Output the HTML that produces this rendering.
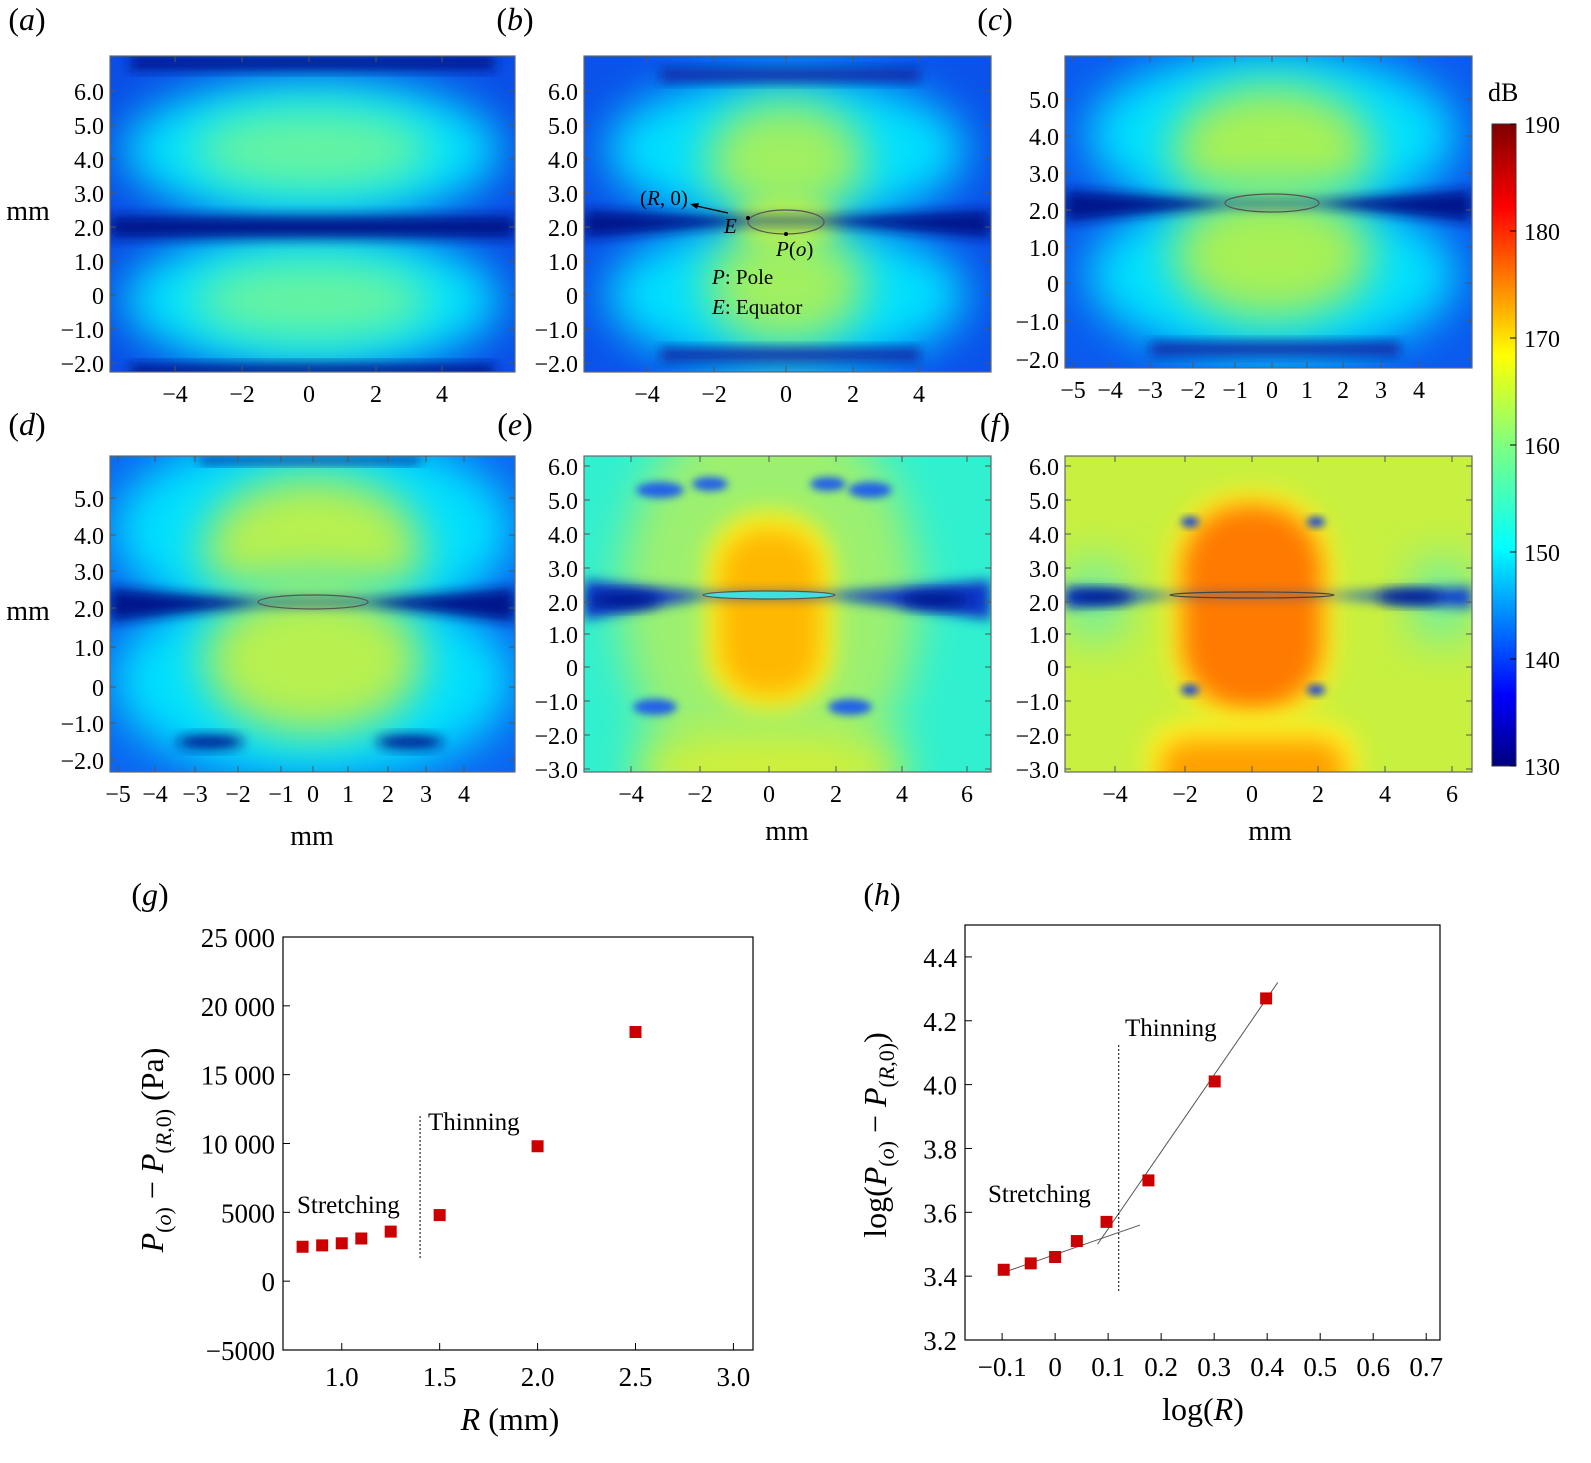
<!DOCTYPE html>
<html><head><meta charset="utf-8"><style>
html,body{margin:0;padding:0;background:#fff;}
svg{display:block;font-family:"Liberation Serif",serif;}
</style></head><body>
<svg id="fig" width="1591" height="1463" viewBox="0 0 1591 1463" xmlns="http://www.w3.org/2000/svg">
<defs>
<filter id="b4" x="-50%" y="-50%" width="200%" height="200%"><feGaussianBlur stdDeviation="4"/></filter>
<filter id="b6" x="-50%" y="-50%" width="200%" height="200%"><feGaussianBlur stdDeviation="6"/></filter>
<filter id="b12" x="-50%" y="-50%" width="200%" height="200%"><feGaussianBlur stdDeviation="12"/></filter>
<filter id="b22" x="-50%" y="-50%" width="200%" height="200%"><feGaussianBlur stdDeviation="22"/></filter>
<linearGradient id="jet" x1="0" y1="1" x2="0" y2="0">
<stop offset="0" stop-color="#00007f"/><stop offset="0.11" stop-color="#0000ff"/><stop offset="0.34" stop-color="#00ffff"/>
<stop offset="0.5" stop-color="#7fff7f"/><stop offset="0.64" stop-color="#ffff00"/><stop offset="0.87" stop-color="#ff0000"/><stop offset="1" stop-color="#7f0000"/>
</linearGradient>
<clipPath id="ca"><rect x="110" y="56" width="405" height="316"/></clipPath>
<clipPath id="cb"><rect x="584" y="56" width="407" height="316"/></clipPath>
<clipPath id="cc"><rect x="1065" y="56" width="407" height="312"/></clipPath>
<clipPath id="cd"><rect x="110" y="456" width="405" height="316"/></clipPath>
<clipPath id="ce"><rect x="584" y="456" width="407" height="316"/></clipPath>
<clipPath id="cf"><rect x="1065" y="456" width="407" height="316"/></clipPath>
</defs>

<g clip-path="url(#ca)">
<rect x="110" y="56" width="405" height="316" fill="#0a4ee6"/>
<ellipse cx="312" cy="150" rx="190" ry="72" fill="#00e0ff" filter="url(#b22)"/>
<ellipse cx="312" cy="150" rx="120" ry="42" fill="#66f4a0" filter="url(#b22)"/>
<ellipse cx="312" cy="300" rx="190" ry="72" fill="#00e0ff" filter="url(#b22)"/>
<ellipse cx="312" cy="300" rx="120" ry="42" fill="#66f4a0" filter="url(#b22)"/>
<rect x="110" y="216" width="405" height="22" fill="#06188c" filter="url(#b6)"/>
<rect x="130" y="56" width="365" height="14" fill="#06188c" filter="url(#b6)"/>
<rect x="130" y="364" width="365" height="12" fill="#06188c" filter="url(#b6)"/>
</g>
<g clip-path="url(#cb)">
<rect x="584" y="56" width="407" height="316" fill="#0a52ea"/>
<ellipse cx="786" cy="150" rx="180" ry="75" fill="#00e0ff" filter="url(#b22)"/>
<ellipse cx="786" cy="160" rx="80" ry="60" fill="#a0f060" filter="url(#b22)"/>
<ellipse cx="786" cy="295" rx="180" ry="75" fill="#00e0ff" filter="url(#b22)"/>
<ellipse cx="786" cy="285" rx="80" ry="60" fill="#a0f060" filter="url(#b22)"/>
<ellipse cx="786" cy="222" rx="50" ry="30" fill="#b4f050" filter="url(#b12)"/>
<path d="M584 210 L750 218 L822 218 L991 210 L991 238 L822 224 L750 224 L584 238Z" fill="#06188c" filter="url(#b6)"/>
<rect x="660" y="68" width="260" height="14" fill="#0a2aa8" filter="url(#b6)"/>
<rect x="660" y="348" width="260" height="14" fill="#0a2aa8" filter="url(#b6)"/>
<ellipse cx="786" cy="222" rx="38" ry="12" fill="none" stroke="#555" stroke-width="1.2"/>
</g>
<g clip-path="url(#cc)">
<rect x="1065" y="56" width="407" height="312" fill="#0a5aee"/>
<ellipse cx="1272" cy="135" rx="185" ry="85" fill="#00e0ff" filter="url(#b22)"/>
<ellipse cx="1272" cy="150" rx="100" ry="65" fill="#a8f054" filter="url(#b22)"/>
<ellipse cx="1272" cy="275" rx="185" ry="85" fill="#00e0ff" filter="url(#b22)"/>
<ellipse cx="1272" cy="255" rx="100" ry="65" fill="#a8f054" filter="url(#b22)"/>
<path d="M1065 190 L1225 201 L1320 201 L1472 190 L1472 222 L1320 206 L1225 206 L1065 222Z" fill="#06188c" filter="url(#b6)"/>
<rect x="1150" y="342" width="250" height="14" fill="#0a2aa8" filter="url(#b6)"/>
<ellipse cx="1272" cy="203" rx="47" ry="9" fill="none" stroke="#555" stroke-width="1.2"/>
</g>
<g clip-path="url(#cd)">
<rect x="110" y="456" width="405" height="316" fill="#0a66f0"/>
<ellipse cx="313" cy="530" rx="200" ry="100" fill="#00e0ff" filter="url(#b22)"/>
<ellipse cx="313" cy="550" rx="110" ry="75" fill="#b8f050" filter="url(#b22)"/>
<ellipse cx="313" cy="680" rx="200" ry="100" fill="#00e0ff" filter="url(#b22)"/>
<ellipse cx="313" cy="660" rx="110" ry="75" fill="#b8f050" filter="url(#b22)"/>
<path d="M110 588 L258 600 L368 600 L515 588 L515 622 L368 605 L258 605 L110 622Z" fill="#06188c" filter="url(#b6)"/>
<rect x="200" y="456" width="220" height="8" fill="#0a2aa8" filter="url(#b6)"/>
<ellipse cx="210" cy="742" rx="34" ry="7" fill="#06188c" filter="url(#b6)"/>
<ellipse cx="410" cy="742" rx="34" ry="7" fill="#06188c" filter="url(#b6)"/>
<ellipse cx="313" cy="602" rx="55" ry="7" fill="none" stroke="#555" stroke-width="1.2"/>
</g>
<g clip-path="url(#ce)">
<rect x="584" y="456" width="407" height="316" fill="#30f0d0"/>
<ellipse cx="769" cy="600" rx="150" ry="200" fill="#9cf070" filter="url(#b22)"/>
<rect x="640" y="740" width="260" height="60" fill="#d8f030" filter="url(#b22)"/>
<rect x="705" y="510" width="130" height="200" rx="60" fill="#f8f020" filter="url(#b12)"/>
<rect x="720" y="530" width="100" height="165" rx="45" fill="#ffb800" filter="url(#b12)"/>
<path d="M584 580 L703 593 L835 593 L991 580 L991 620 L835 598 L703 598 L584 620Z" fill="#0838c8" filter="url(#b6)"/>
<ellipse cx="625" cy="600" rx="35" ry="8" fill="#061a90" filter="url(#b6)"/>
<ellipse cx="935" cy="600" rx="35" ry="8" fill="#061a90" filter="url(#b6)"/>
<ellipse cx="660" cy="490" rx="24" ry="8" fill="#2060e8" filter="url(#b4)"/>
<ellipse cx="710" cy="484" rx="18" ry="7" fill="#2060e8" filter="url(#b4)"/>
<ellipse cx="828" cy="484" rx="18" ry="7" fill="#2060e8" filter="url(#b4)"/>
<ellipse cx="870" cy="490" rx="22" ry="8" fill="#2060e8" filter="url(#b4)"/>
<ellipse cx="655" cy="707" rx="22" ry="8" fill="#2060e8" filter="url(#b4)"/>
<ellipse cx="850" cy="707" rx="22" ry="8" fill="#2060e8" filter="url(#b4)"/>
<ellipse cx="769" cy="595" rx="66" ry="4" fill="#40e0e0" stroke="#555" stroke-width="1.2"/>
</g>
<g clip-path="url(#cf)">
<rect x="1065" y="456" width="407" height="316" fill="#c8f040"/>
<rect x="1065" y="560" width="60" height="80" fill="#70f0a0" filter="url(#b22)"/>
<rect x="1412" y="560" width="60" height="80" fill="#70f0a0" filter="url(#b22)"/>
<rect x="1170" y="490" width="165" height="235" rx="75" fill="#fff020" filter="url(#b12)"/>
<rect x="1182" y="505" width="140" height="205" rx="65" fill="#ff7a00" filter="url(#b12)"/>
<rect x="1145" y="720" width="215" height="80" rx="40" fill="#fff020" filter="url(#b12)"/>
<rect x="1160" y="740" width="185" height="60" rx="30" fill="#ffa000" filter="url(#b12)"/>
<path d="M1065 587 L1170 594 L1335 594 L1472 587 L1472 608 L1335 597 L1170 597 L1065 608Z" fill="#0a40d0" filter="url(#b6)"/>
<ellipse cx="1100" cy="597" rx="32" ry="7" fill="#061a90" filter="url(#b6)"/>
<ellipse cx="1410" cy="597" rx="32" ry="7" fill="#061a90" filter="url(#b6)"/>
<ellipse cx="1190" cy="522" rx="9" ry="5" fill="#1040e0" filter="url(#b4)"/>
<ellipse cx="1316" cy="522" rx="9" ry="5" fill="#1040e0" filter="url(#b4)"/>
<ellipse cx="1190" cy="690" rx="9" ry="5" fill="#1040e0" filter="url(#b4)"/>
<ellipse cx="1316" cy="690" rx="9" ry="5" fill="#1040e0" filter="url(#b4)"/>
<ellipse cx="1252" cy="595" rx="82" ry="3" fill="none" stroke="#444" stroke-width="1.2"/>
</g>

<g font-size="21">
<text x="640" y="205">(<tspan font-style="italic">R</tspan>, 0)</text>
<line x1="728" y1="213" x2="692" y2="205" stroke="#000" stroke-width="1.2"/>
<path d="M690 204 L699 203 L697 209Z" fill="#000"/>
<circle cx="748" cy="218" r="2" fill="#000"/>
<circle cx="786" cy="234" r="2" fill="#000"/>
<text x="724" y="233" font-style="italic">E</text>
<text x="776" y="256"><tspan font-style="italic">P</tspan>(<tspan font-style="italic">o</tspan>)</text>
<text x="712" y="284"><tspan font-style="italic">P</tspan>: Pole</text>
<text x="712" y="314"><tspan font-style="italic">E</tspan>: Equator</text>
</g>

<g>
<rect x="1492" y="124" width="24" height="642" fill="url(#jet)" stroke="#333" stroke-width="1"/>
<text x="1488" y="101" font-size="26">dB</text>
</g>
<g id="dyn"></g>
</svg>
<script>
var NS='http://www.w3.org/2000/svg';
var root=document.getElementById('dyn');
function mk(tag,attrs,parent){var e=document.createElementNS(NS,tag);for(var k in attrs)e.setAttribute(k,attrs[k]);(parent||root).appendChild(e);return e;}
function txt(x,y,s,size,anchor,parent){var t=mk('text',{x:x,y:y,'font-size':size,'text-anchor':anchor||'middle'},parent);t.textContent=s;return t;}

var cbLabels=['190','180','170','160','150','140','130'];
cbLabels.forEach(function(l,i){var y=124+i*107;
  mk('line',{x1:1510,y1:y,x2:1516,y2:y,stroke:'#000'});
  var t=txt(1524,y+9,l,24,'start');
  
  
});

var panels=[
 {n:'a',x:110,y:56,w:405,h:316,yl:['6.0','5.0','4.0','3.0','2.0','1.0','0','\u22121.0','\u22122.0'],yp:[91,125,159,193,227,261,295,329,363],xl:['\u22124','\u22122','0','2','4'],xp:[175,242,309,376,442],lx:27,ly:30,ym:true},
 {n:'b',x:584,y:56,w:407,h:316,yl:['6.0','5.0','4.0','3.0','2.0','1.0','0','\u22121.0','\u22122.0'],yp:[91,125,159,193,227,261,295,329,363],xl:['\u22124','\u22122','0','2','4'],xp:[647,714,786,853,919],lx:515,ly:30},
 {n:'c',x:1065,y:56,w:407,h:312,yl:['5.0','4.0','3.0','2.0','1.0','0','\u22121.0','\u22122.0'],yp:[99,136,173,210,247,283,321,359],xl:['\u22125','\u22124','\u22123','\u22122','\u22121','0','1','2','3','4'],xp:[1073,1110,1150,1193,1235,1272,1307,1343,1381,1419],lx:995,ly:30},
 {n:'d',x:110,y:456,w:405,h:316,yl:['5.0','4.0','3.0','2.0','1.0','0','\u22121.0','\u22122.0'],yp:[498,535,571,608,647,687,723,760],xl:['\u22125','\u22124','\u22123','\u22122','\u22121','0','1','2','3','4'],xp:[118,155,195,238,281,313,348,388,426,464],lx:27,ly:435,ym:true,xm:[312,845]},
 {n:'e',x:584,y:456,w:407,h:316,yl:['6.0','5.0','4.0','3.0','2.0','1.0','0','\u22121.0','\u22122.0','\u22123.0'],yp:[466,500,534,568,602,634,667,701,735,769],xl:['\u22124','\u22122','0','2','4','6'],xp:[631,700,769,836,902,967],lx:515,ly:435,xm:[787,840]},
 {n:'f',x:1065,y:456,w:407,h:316,yl:['6.0','5.0','4.0','3.0','2.0','1.0','0','\u22121.0','\u22122.0','\u22123.0'],yp:[466,500,534,568,602,634,667,701,735,769],xl:['\u22124','\u22122','0','2','4','6'],xp:[1115,1185,1252,1318,1385,1452],lx:995,ly:435,xm:[1270,840]}
];
panels.forEach(function(p){
  var g=mk('g',{});
  
  
  mk('rect',{x:p.x,y:p.y,width:p.w,height:p.h,fill:'none',stroke:'#666','stroke-width':1.2},g);
  p.yp.forEach(function(y,i){
    mk('line',{x1:p.x,y1:y,x2:p.x+6,y2:y,stroke:'#555'},g);
    mk('line',{x1:p.x+p.w,y1:y,x2:p.x+p.w-6,y2:y,stroke:'#555'},g);
    var t=txt(p.x-6,y+9,p.yl[i],24,'end',g);
    
    
  });
  p.xp.forEach(function(x,i){
    mk('line',{x1:x,y1:p.y+p.h,x2:x,y2:p.y+p.h-6,stroke:'#555'},g);
    mk('line',{x1:x,y1:p.y,x2:x,y2:p.y+6,stroke:'#555'},g);
    var t=txt(x,p.y+p.h+30,p.xl[i],24,'middle',g);
    
    
  });
  var lab=mk('text',{x:p.lx,y:p.ly,'font-size':32,'text-anchor':'middle'},g);
  lab.innerHTML='(<tspan font-style="italic">'+p.n+'</tspan>)';
  
  
  if(p.ym){var m=txt(28,(p.n=='a'?220:620),'mm',28,'middle',g);
    
    }
  if(p.xm){var m2=txt(p.xm[0],p.xm[1],'mm',28,'middle',g);
    
    }
});

var gR=[0.8,0.9,1.0,1.1,1.25,1.5,2.0,2.5];
var gP=[2500,2600,2750,3100,3600,4800,9800,18100];
var gYTicks=[25000,20000,15000,10000,5000,0,-5000];
var gYLabels=['25 000','20 000','15 000','10 000','5000','0','\u22125000'];
var gXTicks=[1.0,1.5,2.0,2.5,3.0];
var gXLabels=['1.0','1.5','2.0','2.5','3.0'];
var gDivider=[1.4];
(function(){
  var X0=283,X1=753,Y0=937,Y1=1350,xmin=0.7,xmax=3.1,ymin=-5000,ymax=25000;
  function sx(v){return X0+(v-xmin)/(xmax-xmin)*(X1-X0);}
  function sy(v){return Y1-(v-ymin)/(ymax-ymin)*(Y1-Y0);}
  var g=mk('g',{});
  
  
  mk('rect',{x:X0,y:Y0,width:X1-X0,height:Y1-Y0,fill:'none',stroke:'#000','stroke-width':1.2},g);
  gYTicks.forEach(function(v,i){var y=sy(v);
    mk('line',{x1:X0,y1:y,x2:X0+7,y2:y,stroke:'#000'},g);
    var t=txt(X0-8,y+10,gYLabels[i],27,'end',g);
    
    
  });
  gXTicks.forEach(function(v,i){var x=sx(v);
    mk('line',{x1:x,y1:Y1,x2:x,y2:Y1-7,stroke:'#000'},g);
    var t=txt(x,Y1+36,gXLabels[i],27,'middle',g);
    
    
  });
  var dl=mk('line',{x1:sx(gDivider[0]),y1:sy(12000),x2:sx(gDivider[0]),y2:sy(1600),stroke:'#000','stroke-dasharray':'2,2'},g);
  
  
  gR.forEach(function(r,i){
    var m=mk('rect',{x:sx(r)-6,y:sy(gP[i])-6,width:12,height:12,fill:'#cc0000'},g);
    
    
  });
  var t1=txt(428,1130,'Thinning',25,'start',g);
  
  
  var t2=txt(297,1213,'Stretching',25,'start',g);
  
  
  var lab=mk('text',{x:150,y:905,'font-size':32,'text-anchor':'middle'},g);
  lab.innerHTML='(<tspan font-style="italic">g</tspan>)';
  
  
  var xt=mk('text',{x:510,y:1430,'font-size':32,'text-anchor':'middle'},g);
  xt.innerHTML='<tspan font-style="italic">R</tspan> (mm)';
  
  
  var yt=mk('text',{x:0,y:0,'font-size':32,'text-anchor':'middle',transform:'translate(163,1150) rotate(-90)'},g);
  yt.innerHTML='<tspan font-style="italic">P</tspan><tspan font-size="22" dy="8">(<tspan font-style="italic">o</tspan>)</tspan><tspan dy="-8"> \u2212 </tspan><tspan font-style="italic">P</tspan><tspan font-size="22" dy="8">(<tspan font-style="italic">R</tspan>,0)</tspan><tspan dy="-8"> (Pa)</tspan>';
  
  
})();

var hLogR=[-0.097,-0.046,0.0,0.041,0.097,0.176,0.301,0.398];
var hLogP=[3.42,3.44,3.46,3.51,3.57,3.70,4.01,4.27];
var hFitStretchX=[-0.1,0.16];
var hFitStretchY=[3.41,3.56];
var hFitThinX=[0.08,0.42];
var hFitThinY=[3.50,4.32];
var hDivider=[0.12];
var hYTicks=[4.4,4.2,4.0,3.8,3.6,3.4,3.2];
var hYLabels=['4.4','4.2','4.0','3.8','3.6','3.4','3.2'];
var hXTicks=[-0.1,0,0.1,0.2,0.3,0.4,0.5,0.6,0.7];
var hXLabels=['\u22120.1','0','0.1','0.2','0.3','0.4','0.5','0.6','0.7'];
(function(){
  var X0=965,X1=1440,Y0=925,Y1=1340,xmin=-0.17,xmax=0.726,ymin=3.2,ymax=4.5;
  function sx(v){return X0+(v-xmin)/(xmax-xmin)*(X1-X0);}
  function sy(v){return Y1-(v-ymin)/(ymax-ymin)*(Y1-Y0);}
  var g=mk('g',{});
  
  
  mk('rect',{x:X0,y:Y0,width:X1-X0,height:Y1-Y0,fill:'none',stroke:'#000','stroke-width':1.2},g);
  hYTicks.forEach(function(v,i){var y=sy(v);
    mk('line',{x1:X0,y1:y,x2:X0+7,y2:y,stroke:'#000'},g);
    var t=txt(X0-8,y+10,hYLabels[i],27,'end',g);
    
    
  });
  hXTicks.forEach(function(v,i){var x=sx(v);
    mk('line',{x1:x,y1:Y1,x2:x,y2:Y1-7,stroke:'#000'},g);
    var t=txt(x,Y1+36,hXLabels[i],27,'middle',g);
    
    
  });
  var f1=mk('line',{x1:sx(hFitStretchX[0]),y1:sy(hFitStretchY[0]),x2:sx(hFitStretchX[1]),y2:sy(hFitStretchY[1]),stroke:'#555','stroke-width':1},g);
  
  
  var f2=mk('line',{x1:sx(hFitThinX[0]),y1:sy(hFitThinY[0]),x2:sx(hFitThinX[1]),y2:sy(hFitThinY[1]),stroke:'#555','stroke-width':1},g);
  
  
  var dl=mk('line',{x1:sx(hDivider[0]),y1:1045,x2:sx(hDivider[0]),y2:1292,stroke:'#000','stroke-dasharray':'2,2'},g);
  
  
  hLogR.forEach(function(r,i){
    var m=mk('rect',{x:sx(r)-6,y:sy(hLogP[i])-6,width:12,height:12,fill:'#cc0000'},g);
    
    
  });
  var t1=txt(1125,1036,'Thinning',25,'start',g);
  
  
  var t2=txt(988,1202,'Stretching',25,'start',g);
  
  
  var lab=mk('text',{x:882,y:905,'font-size':32,'text-anchor':'middle'},g);
  lab.innerHTML='(<tspan font-style="italic">h</tspan>)';
  
  
  var xt=txt(1203,1420,'log(R)',32,'middle',g);
  xt.innerHTML='log(<tspan font-style="italic">R</tspan>)';
  
  
  var yt=mk('text',{x:0,y:0,'font-size':32,'text-anchor':'middle',transform:'translate(886,1135) rotate(-90)'},g);
  yt.innerHTML='log(<tspan font-style="italic">P</tspan><tspan font-size="22" dy="8">(<tspan font-style="italic">o</tspan>)</tspan><tspan dy="-8"> \u2212 </tspan><tspan font-style="italic">P</tspan><tspan font-size="22" dy="8">(<tspan font-style="italic">R</tspan>,0)</tspan><tspan dy="-8">)</tspan>';
  
  
})();
</script>
</body></html>
